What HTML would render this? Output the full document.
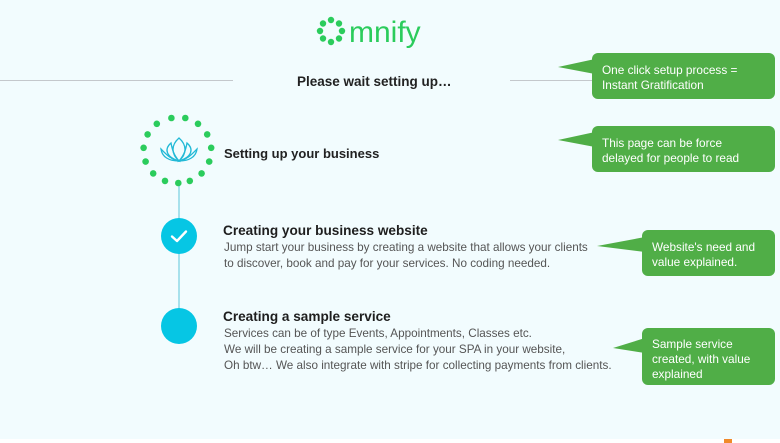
<!DOCTYPE html>
<html><head><meta charset="utf-8"><style>
html,body{margin:0;padding:0;}
body{width:780px;height:443px;background:#fff;overflow:hidden;font-family:"Liberation Sans",sans-serif;}
</style></head><body>
<svg width="780" height="443" xmlns="http://www.w3.org/2000/svg" style="display:block">
<rect x="0" y="0" width="780" height="439" fill="#f2fcfe"/>
<g fill="#2bcc5c">
<circle cx="331" cy="20" r="3.2"/><circle cx="339" cy="23.5" r="3.2"/><circle cx="342" cy="31" r="3.2"/><circle cx="339" cy="38.5" r="3.2"/>
<circle cx="331" cy="42" r="3.2"/><circle cx="323" cy="38.5" r="3.2"/><circle cx="320" cy="31" r="3.2"/><circle cx="323" cy="23.5" r="3.2"/>
</g>
<text x="349" y="42" font-size="30" fill="#2bcc5c" font-family="Liberation Sans, sans-serif">mnify</text>
<line x1="0" y1="80.5" x2="233" y2="80.5" stroke="#c4c8cc" stroke-width="1"/>
<line x1="510" y1="80.5" x2="600" y2="80.5" stroke="#c4c8cc" stroke-width="1"/>
<text x="297" y="86" font-size="13.5" font-weight="bold" fill="#222">Please wait setting up…</text>
<line x1="179" y1="184" x2="179" y2="326" stroke="#8ed8e6" stroke-width="1.5"/>
<g fill="#2bcc5c">
<circle cx="171.4" cy="118.0" r="3.3"/><circle cx="185.3" cy="118.0" r="3.3"/><circle cx="198.0" cy="123.8" r="3.3"/><circle cx="207.2" cy="134.4" r="3.3"/>
<circle cx="211.2" cy="147.8" r="3.3"/><circle cx="209.2" cy="161.6" r="3.3"/><circle cx="201.6" cy="173.4" r="3.3"/><circle cx="189.8" cy="180.9" r="3.3"/>
<circle cx="178.3" cy="183.0" r="3.3"/><circle cx="165.0" cy="180.9" r="3.3"/><circle cx="153.2" cy="173.4" r="3.3"/><circle cx="145.6" cy="161.6" r="3.3"/>
<circle cx="143.6" cy="147.8" r="3.3"/><circle cx="147.6" cy="134.4" r="3.3"/><circle cx="156.8" cy="123.8" r="3.3"/>
</g>
<g fill="none" stroke="#22b9d6" stroke-width="1.3">
<path d="M179 138 C171 145 171 154 179 161 C187 154 187 145 179 138Z"/>
<path d="M171 143 C164 149 166 157 179 161 C173 154 172 148 171 143Z"/>
<path d="M187 143 C194 149 192 157 179 161 C185 154 186 148 187 143Z"/>
<path d="M161 149 C162 157 169 161 179 161 C170 159 166 154 161 149Z"/>
<path d="M197 149 C196 157 189 161 179 161 C188 159 192 154 197 149Z"/>
</g>
<text x="224" y="158" font-size="13" font-weight="bold" fill="#222">Setting up your business</text>
<circle cx="179" cy="236" r="18" fill="#06c6e4"/>
<path d="M172 236.5 L177 241 L186 231.5" fill="none" stroke="#fff" stroke-width="2.4" stroke-linecap="round" stroke-linejoin="round"/>
<circle cx="179" cy="326" r="18" fill="#06c6e4"/>
<text x="223" y="235" font-size="13.6" font-weight="bold" fill="#1e1e1e">Creating your business website</text>
<text x="224" y="251" font-size="11.7" fill="#555">Jump start your business by creating a website that allows your clients</text>
<text x="224" y="267" font-size="11.7" fill="#555">to discover, book and pay for your services. No coding needed.</text>
<text x="223" y="321" font-size="13.6" font-weight="bold" fill="#1e1e1e">Creating a sample service</text>
<text x="224" y="337" font-size="11.7" fill="#555">Services can be of type Events, Appointments, Classes etc.</text>
<text x="224" y="353" font-size="11.7" fill="#555">We will be creating a sample service for your SPA in your website,</text>
<text x="224" y="369" font-size="11.7" fill="#555">Oh btw… We also integrate with stripe for collecting payments from clients.</text>
<g fill="#50ae47">
<rect x="592" y="53" width="183" height="46" rx="6"/><polygon points="558,67 595,59 595,74"/>
<rect x="592" y="126" width="183" height="46" rx="6"/><polygon points="558,140 595,132 595,147"/>
<rect x="642" y="230" width="133" height="46" rx="6"/><polygon points="597,246 645,237 645,252"/>
<rect x="642" y="328" width="133" height="57" rx="6"/><polygon points="613,348 645,338 645,353"/>
</g>
<g fill="#fff" font-size="11.8">
<text x="602" y="74">One click setup process =</text>
<text x="602" y="89">Instant Gratification</text>
<text x="602" y="147">This page can be force</text>
<text x="602" y="162">delayed for people to read</text>
<text x="652" y="251">Website's need and</text>
<text x="652" y="266">value  explained.</text>
<text x="652" y="348">Sample service</text>
<text x="652" y="363">created, with value</text>
<text x="652" y="378">explained</text>
</g>
<rect x="724" y="439" width="8" height="4" fill="#f08a2a"/>
</svg>
</body></html>
